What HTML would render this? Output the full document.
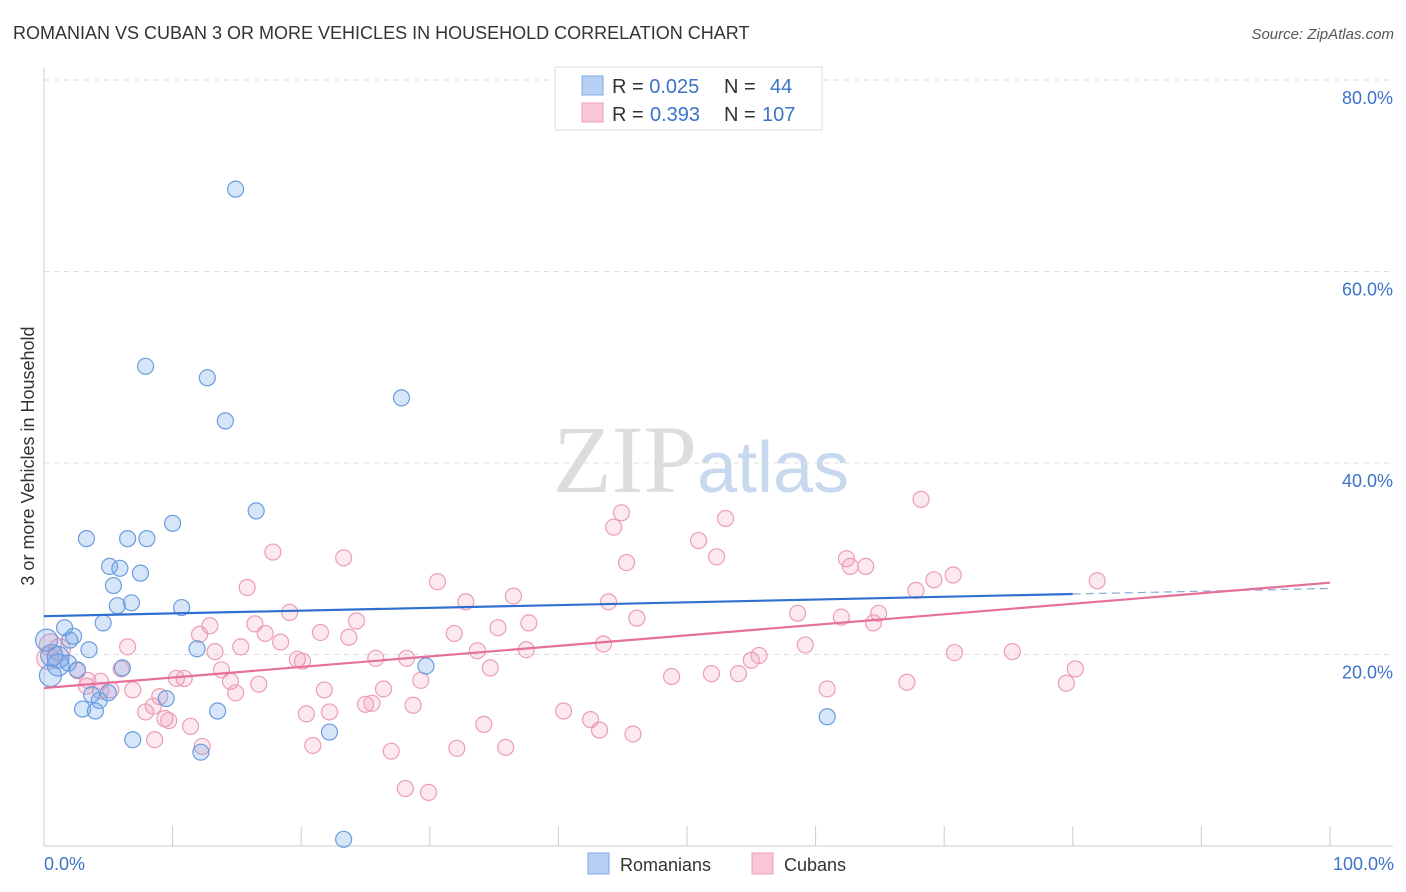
<!DOCTYPE html>
<html><head><meta charset="utf-8"><style>
body{margin:0;background:#fff;font-family:"Liberation Sans",sans-serif;}
svg{display:block}
</style></head><body>
<svg id="chart" width="1406" height="892" xmlns="http://www.w3.org/2000/svg">
<text x="13" y="39" font-size="18" fill="#333">ROMANIAN VS CUBAN 3 OR MORE VEHICLES IN HOUSEHOLD CORRELATION CHART</text>
<text x="1394" y="39" font-size="15" fill="#555" font-style="italic" text-anchor="end">Source: ZipAtlas.com</text>
<text x="553" y="492" font-size="96" fill="#ddd" font-family="Liberation Serif,serif">ZIP<tspan fill="#c8d8ee" font-family="Liberation Sans,sans-serif" font-size="72">atlas</tspan></text>
<g id="grid"></g>
<g id="axes"></g>
<g id="points"></g>
<g id="trends"></g>
<text transform="translate(34,456) rotate(-90)" font-size="18" fill="#333" text-anchor="middle">3 or more Vehicles in Household</text>
<text x="44" y="870" font-size="18" fill="#3b73c9">0.0%</text>
<text x="1394" y="870" font-size="18" fill="#3b73c9" text-anchor="end">100.0%</text>
<g>
<rect x="555" y="67" width="267" height="63" fill="#fff" stroke="#ddd"/>
<rect x="582" y="76" width="21" height="19" fill="#b8d0f4" stroke="#7eaae6"/>
<rect x="582" y="103" width="21" height="19" fill="#f9c6d6" stroke="#ee9fb8"/>
<text x="612" y="93" font-size="20" fill="#333">R = <tspan fill="#3b73c9">0.025</tspan><tspan x="724">N = </tspan><tspan x="770" fill="#3b73c9">44</tspan></text>
<text x="612" y="121" font-size="20" fill="#333">R = <tspan fill="#3b73c9" x="650">0.393</tspan><tspan x="724">N = </tspan><tspan x="762" fill="#3b73c9">107</tspan></text>
</g>
<g>
<rect x="588" y="853" width="21" height="21" fill="#b8d0f4" stroke="#7eaae6"/>
<text x="620" y="871" font-size="18" fill="#333">Romanians</text>
<rect x="752" y="853" width="21" height="21" fill="#f9c6d6" stroke="#ee9fb8"/>
<text x="784" y="871" font-size="18" fill="#333">Cubans</text>
</g>
</svg>
<script>
const yTicks=[20,40,60,80];
const yTickLabels=["20.0%","40.0%","60.0%","80.0%"];
const xTicks=[0,10,20,30,40,50,60,70,80,90,100];
const blueX=[14.9,7.9,12.7,14.1,27.8,16.5,10.0,3.3,6.5,8.0,5.1,5.9,7.5,5.4,5.7,6.8,10.7,4.6,1.6,2.3,2.0,3.5,0.6,1.1,1.9,2.6,6.1,0.5,11.9,29.7,5.0,4.3,3.7,9.5,3.0,4.0,13.5,6.9,12.2,22.2,60.9,23.3,0.2,1.1];
const blueY=[68.6,50.1,48.9,44.4,46.8,35.0,33.7,32.1,32.1,32.1,29.2,29.0,28.5,27.2,25.1,25.4,24.9,23.3,22.8,21.9,21.5,20.5,19.9,19.7,19.1,18.4,18.6,17.8,20.6,18.8,16.0,15.2,15.8,15.4,14.3,14.1,14.1,11.1,9.8,11.9,13.5,0.7,21.5,18.9];
const pinkX=[68.2,44.9,53.0,44.3,50.9,52.3,45.3,23.3,17.8,62.4,62.7,63.9,70.7,69.2,81.9,67.8,30.6,36.5,32.8,43.9,15.8,19.1,64.9,58.6,62.0,64.5,46.1,24.3,37.7,35.3,31.9,12.9,16.4,12.1,17.2,21.5,23.7,18.4,6.5,15.3,43.5,59.2,33.7,37.5,55.6,55.0,70.8,75.3,13.3,19.7,20.1,25.8,28.2,34.7,13.8,6.0,2.6,4.4,10.3,10.9,14.5,16.7,29.3,48.8,51.9,54.0,67.1,79.5,80.2,60.9,6.9,3.3,4.4,5.2,21.8,26.4,9.0,14.9,8.5,7.9,25.0,25.5,28.7,20.4,22.2,9.4,9.7,11.4,34.2,40.4,42.5,43.2,45.8,20.9,12.3,8.6,32.1,35.9,27.0,28.1,29.9,1.2,0.5,0.3,3.4];
const pinkY=[36.2,34.8,34.2,33.3,31.9,30.2,29.6,30.1,30.7,30.0,29.2,29.2,28.3,27.8,27.7,26.7,27.6,26.1,25.5,25.5,27.0,24.4,24.3,24.3,23.9,23.3,23.8,23.5,23.3,22.8,22.2,23.0,23.2,22.1,22.2,22.3,21.8,21.3,20.8,20.8,21.1,21.0,20.4,20.5,19.9,19.4,20.2,20.3,20.3,19.5,19.3,19.6,19.6,18.6,18.4,18.5,18.3,17.2,17.5,17.5,17.2,16.9,17.3,17.7,18.0,18.0,17.1,17.0,18.5,16.4,16.3,16.7,16.2,16.3,16.3,16.4,15.6,16.0,14.6,14.0,14.8,14.9,14.7,13.8,14.0,13.3,13.1,12.5,12.7,14.1,13.2,12.1,11.7,10.5,10.4,11.1,10.2,10.3,9.9,6.0,5.6,20.5,21.0,19.6,17.3];
const blueTrend=[24.0,26.9];
const pinkTrend=[16.5,27.5];
const NS="http://www.w3.org/2000/svg";
const X=v=>44+v*12.86;
const Y=v=>846-v*9.575;
function mk(tag,attrs,parent){const e=document.createElementNS(NS,tag);for(const k in attrs)e.setAttribute(k,attrs[k]);parent.appendChild(e);return e;}
const grid=document.getElementById('grid'),axes=document.getElementById('axes'),pts=document.getElementById('points'),tr=document.getElementById('trends');
yTicks.forEach((t,i)=>{
 const l=mk('line',{x1:44,x2:1393,y1:Y(t),y2:Y(t),stroke:'#ddd','stroke-dasharray':'5,5'},grid);
 
 
 const tx=mk('text',{x:1393,y:Y(t)+24,'font-size':18,fill:'#3b73c9','text-anchor':'end'},grid);
 tx.textContent=yTickLabels[i];
 
 
});
const al=mk('line',{x1:44,x2:44,y1:68,y2:846,stroke:'#ccc'},axes);


const bl=mk('line',{x1:44,x2:1393,y1:846,y2:846,stroke:'#ccc'},axes);


xTicks.forEach(t=>{
 const l=mk('line',{x1:X(t),x2:X(t),y1:826,y2:846,stroke:'#ccc'},axes);
 
 
});
function draw(xs,ys,fill,stroke,name){
 xs.forEach((x,i)=>{
  const big=x<1.5;
  const c=mk('circle',{cx:X(x),cy:Y(ys[i]),r:big?11:8,fill:fill,stroke:stroke,'stroke-width':1.2},pts);
  
  
 });
}
draw(pinkX,pinkY,'rgba(242,150,180,0.22)','#ec9db6','cuban-point');
draw(blueX,blueY,'rgba(110,160,230,0.28)','#6a9de0','romanian-point');
const bt=mk('line',{x1:X(0),y1:Y(blueTrend[0]),x2:X(80),y2:Y(blueTrend[0]+(blueTrend[1]-blueTrend[0])*0.8),stroke:'#2f6fd0','stroke-width':2.2},tr);


const bd=mk('line',{x1:X(80),y1:Y(blueTrend[0]+(blueTrend[1]-blueTrend[0])*0.8),x2:X(100),y2:Y(blueTrend[1]),stroke:'#8aa8d8','stroke-width':1.2,'stroke-dasharray':'8,5'},tr);


const pt=mk('line',{x1:X(0),y1:Y(pinkTrend[0]),x2:X(100),y2:Y(pinkTrend[1]),stroke:'#e5709a','stroke-width':2.2},tr);


</script>
</body></html>
